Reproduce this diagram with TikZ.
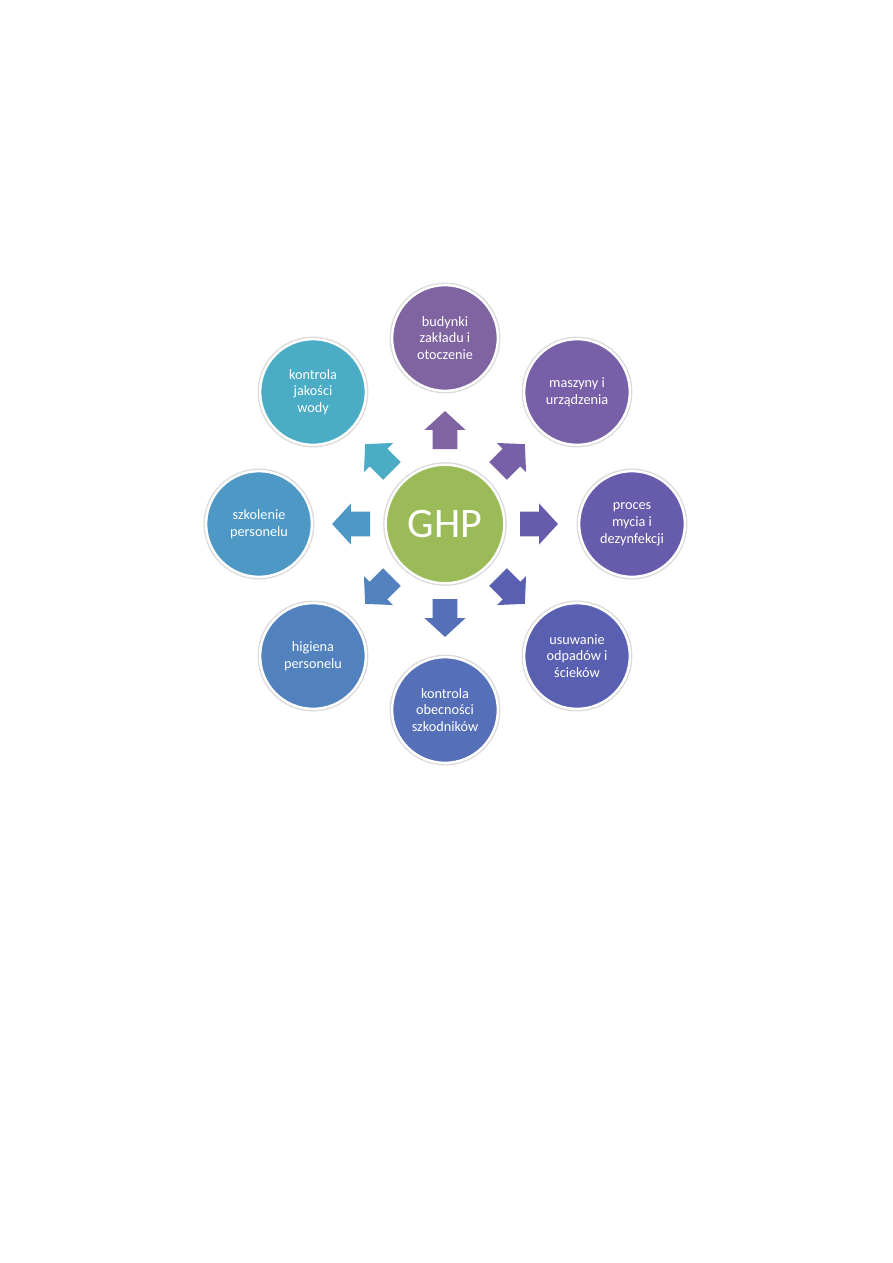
\documentclass[tikz,border=0pt]{standalone}
\usepackage{fontspec}
\setmainfont{Carlito}
\definecolor{c1}{HTML}{8064A2}
\definecolor{c2}{HTML}{7760A7}
\definecolor{c3}{HTML}{675BAB}
\definecolor{c4}{HTML}{5A60B1}
\definecolor{c5}{HTML}{5570B8}
\definecolor{c6}{HTML}{5182BE}
\definecolor{c7}{HTML}{4E98C5}
\definecolor{c8}{HTML}{4BACC6}
\definecolor{cg}{HTML}{9BBB59}
\begin{document}
\begin{tikzpicture}[x=0.6667pt,y=-0.6667pt,
  bub/.style={circle, fill=#1, draw=white, line width=1.6pt,
    preaction={draw=black!14, line width=3.4pt},
    minimum size=70.5pt, inner sep=0pt, text=white,
    font=\fontsize{9.5}{11.2}\selectfont, align=center},
  hub/.style={circle, fill=cg, draw=white, line width=1.6pt,
    preaction={draw=black!14, line width=3.4pt},
    minimum size=79pt, inner sep=0pt, text=white,
    font=\fontsize{28}{30}\selectfont}]
\fill[white] (0,0) rectangle (893,1263);
\useasboundingbox (0,0) rectangle (893,1263);
\foreach \ang/\col in {90/c1,45/c2,0/c3,-45/c4,-90/c5,-135/c6,180/c7,135/c8}{
  \begin{scope}[shift={(445,524)}, rotate=\ang]
    \fill[\col] (50pt,-8.3pt) -- (62.7pt,-8.3pt) -- (62.7pt,-13.7pt) -- (75.3pt,0pt)
      -- (62.7pt,13.7pt) -- (62.7pt,8.3pt) -- (50pt,8.3pt) -- cycle;
  \end{scope}
}
\node[hub] (ghp) at (445,524) {GHP};
\node[bub=c1] (n1) at (445,338) {budynki\\zakładu i\\otoczenie};
\node[bub=c2] (n2) at (577,392) {maszyny i\\urządzenia};
\node[bub=c3] (n3) at (632,524) {proces\\mycia i\\dezynfekcji};
\node[bub=c4] (n4) at (577,656) {usuwanie\\odpadów i\\ścieków};
\node[bub=c5] (n5) at (445,710) {kontrola\\obecności\\szkodników};
\node[bub=c6] (n6) at (313,656) {higiena\\personelu};
\node[bub=c7] (n7) at (259,524) {szkolenie\\personelu};
\node[bub=c8] (n8) at (313,392) {kontrola\\jakości\\wody};
\end{tikzpicture}
\end{document}
